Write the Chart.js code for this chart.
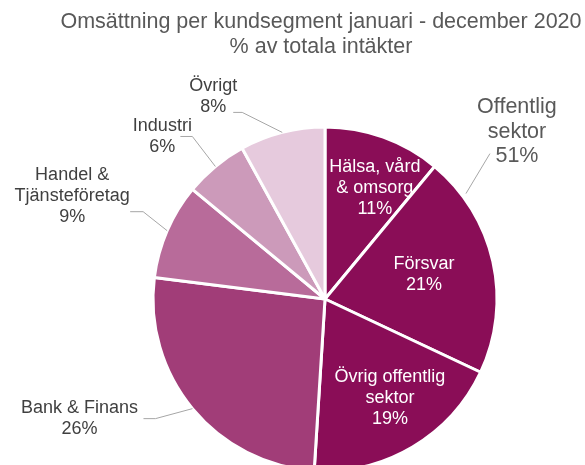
<!DOCTYPE html>
<html>
<head>
<meta charset="utf-8">
<script src="https://cdn.jsdelivr.net/npm/chart.js@4.4.0/dist/chart.umd.min.js"></script>
<style>
  html, body { margin: 0; padding: 0; background: #fff; overflow: hidden; }
  canvas { display: block; }
</style>
</head>
<body>
<canvas id="pieChart" width="585" height="480"></canvas>
<script>
// data
const categories = ['Hälsa, vård & omsorg', 'Försvar', 'Övrig offentlig sektor', 'Bank & Finans', 'Handel & Tjänsteföretag', 'Industri', 'Övrigt'];
const shares = [11, 21, 19, 26, 9, 6, 8];
const labelLines = [['Hälsa, vård', '& omsorg'], ['Försvar'], ['Övrig offentlig', 'sektor'], ['Bank & Finans'], ['Handel &', 'Tjänsteföretag'], ['Industri'], ['Övrigt']];
const groupLines = ['Offentlig', 'sektor'];
const groupMembers = [0, 1, 2];
const titleLines = ['Omsättning per kundsegment januari - december 2020', '% av totala intäkter'];

const sliceColors = ['#8a0d57', '#8a0d57', '#8a0d57', '#a13d78', '#b86b9a', '#cc9aba', '#e6cadd'];

// label placement (style only)
// inside: radius factor + nudge ; outside: elbow offset from arc point, horizontal run, text offset
const labelStyle = [
  { inside: true, r: 0.65, dx: 12, dy: -6 },
  { inside: true, r: 0.65, dx: -10, dy: 0 },
  { inside: true, r: 0.65, dx: 8, dy: 3 },
  { ex: -37, ey: 10, run: -12, tx: -64, ty: 0 },
  { ex: -24, ey: -19, run: -13, tx: -58, ty: -16 },
  { ex: -23, ey: -30, run: -12, tx: -18, ty: 0 },
  { ex: -40, ey: -20, run: -9, tx: -20, ty: -16 }
];

const font = (px) => px + 'px "Liberation Sans", Arial, sans-serif';

const labelPlugin = {
  id: 'pieLabels',
  afterDraw(chart) {
    const ctx = chart.ctx;
    const meta = chart.getDatasetMeta(0);
    ctx.save();
    ctx.textAlign = 'center';
    ctx.textBaseline = 'middle';

    // title
    ctx.fillStyle = '#595959';
    ctx.font = font(21.5);
    ctx.fillText(titleLines[0], 321, 22);
    ctx.fillText(titleLines[1], 321, 47);

    meta.data.forEach((arc, i) => {
      const p = arc.getProps(['x', 'y', 'startAngle', 'endAngle', 'outerRadius'], true);
      const mid = (p.startAngle + p.endAngle) / 2;
      const st = labelStyle[i];
      const lines = labelLines[i].concat([shares[i] + '%']);
      const lh = 21;
      ctx.font = font(18);
      if (st.inside) {
        const x = p.x + Math.cos(mid) * p.outerRadius * st.r + st.dx;
        const y = p.y + Math.sin(mid) * p.outerRadius * st.r + st.dy;
        ctx.fillStyle = '#ffffff';
        lines.forEach((t, k) => ctx.fillText(t, x, y + (k - (lines.length - 1) / 2) * lh));
      } else {
        const ax = p.x + Math.cos(mid) * p.outerRadius;
        const ay = p.y + Math.sin(mid) * p.outerRadius;
        const exx = ax + st.ex, eyy = ay + st.ey;
        const hx = exx + st.run;
        ctx.strokeStyle = '#a6a6a6';
        ctx.lineWidth = 1;
        ctx.beginPath();
        ctx.moveTo(ax, ay);
        ctx.lineTo(exx, eyy);
        ctx.lineTo(hx, eyy);
        ctx.stroke();
        ctx.fillStyle = '#404040';
        const x = hx + st.tx, y = eyy + st.ty;
        lines.forEach((t, k) => ctx.fillText(t, x, y + (k - (lines.length - 1) / 2) * lh));
      }
    });

    // group label for public sector
    const f = meta.data[1].getProps(['x', 'y', 'startAngle', 'endAngle', 'outerRadius'], true);
    const ang = f.startAngle + 0.18 * (f.endAngle - f.startAngle);
    const gx = f.x + Math.cos(ang) * (f.outerRadius + 4);
    const gy = f.y + Math.sin(ang) * (f.outerRadius + 4);
    const lx = gx + 24, ly = gy - 40;
    ctx.strokeStyle = '#a6a6a6';
    ctx.lineWidth = 1;
    ctx.beginPath();
    ctx.moveTo(gx, gy);
    ctx.lineTo(lx, ly);
    ctx.stroke();
    const groupTotal = groupMembers.reduce((s, k) => s + shares[k], 0);
    const gl = groupLines.concat([groupTotal + '%']);
    ctx.fillStyle = '#595959';
    ctx.font = font(21.5);
    gl.forEach((t, k) => ctx.fillText(t, lx + 27, ly - 22 + (k - 1) * 24.5));
    ctx.restore();
  }
};

new Chart(document.getElementById('pieChart').getContext('2d'), {
  type: 'pie',
  data: {
    labels: categories,
    datasets: [{
      data: shares,
      backgroundColor: sliceColors,
      borderColor: '#ffffff',
      borderWidth: 3,
      radius: 172
    }]
  },
  options: {
    responsive: false,
    animation: false,
    layout: { padding: { left: 153, right: 88, top: 127, bottom: 9 } },
    plugins: {
      legend: { display: false },
      tooltip: { enabled: false }
    }
  },
  plugins: [labelPlugin]
});
</script>
</body>
</html>
